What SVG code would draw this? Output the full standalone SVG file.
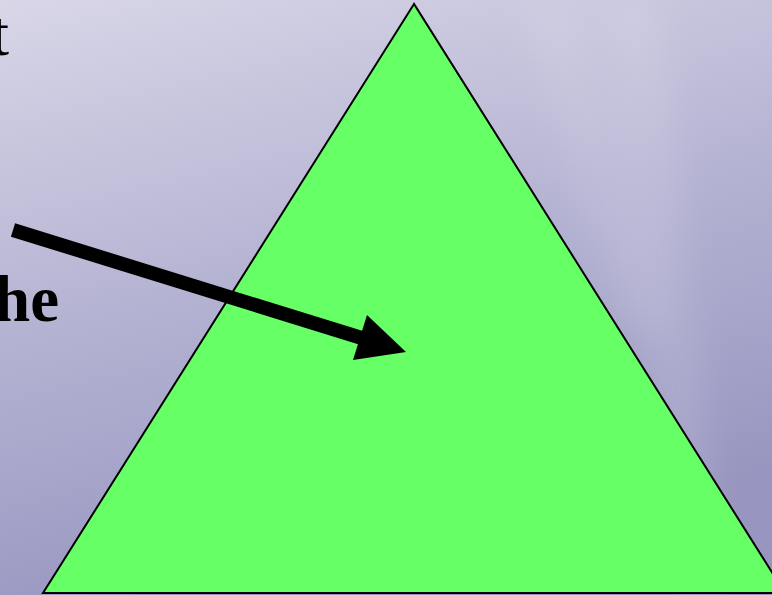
<svg xmlns="http://www.w3.org/2000/svg" width="772" height="595" viewBox="0 0 772 595">
  <defs>
    <linearGradient id="bg" x1="0" y1="0" x2="0.3" y2="1">
      <stop offset="0" stop-color="#d8d6e7"/>
      <stop offset="0.5" stop-color="#b6b4d3"/>
      <stop offset="1" stop-color="#9896c0"/>
    </linearGradient>
    <filter id="blur" x="-50%" y="-50%" width="200%" height="200%">
      <feGaussianBlur stdDeviation="18"/>
    </filter>
    <style>
      .lbl { font-family: "Liberation Serif", "Times New Roman", serif; fill: #000; }
    </style>
  </defs>
  <rect x="0" y="0" width="772" height="595" fill="url(#bg)"/>
  <path d="M600 0 L660 0 L720 595 L680 595 Z" fill="#ffffff" opacity="0.12" filter="url(#blur)"/>
  <path d="M520 0 L580 0 L660 330 L620 330 Z" fill="#ffffff" opacity="0.1" filter="url(#blur)"/>
  <g id="text-t">
    <text class="lbl" x="9" y="55" font-size="64" text-anchor="end">t</text>
  </g>
  <g id="text-he">
    <text class="lbl" x="59" y="321" font-size="65" font-weight="bold" text-anchor="end">he</text>
  </g>
  <g id="triangle">
    <polygon points="414,4 43,593 785,593" fill="#66ff66" stroke="#000" stroke-width="2" stroke-linejoin="miter"/>
  </g>
  <g id="connectors">
    <line x1="13" y1="230" x2="365" y2="339" stroke="#000" stroke-width="14"/>
    <polygon points="406,352 367,315 353,360" fill="#000"/>
  </g>
</svg>
